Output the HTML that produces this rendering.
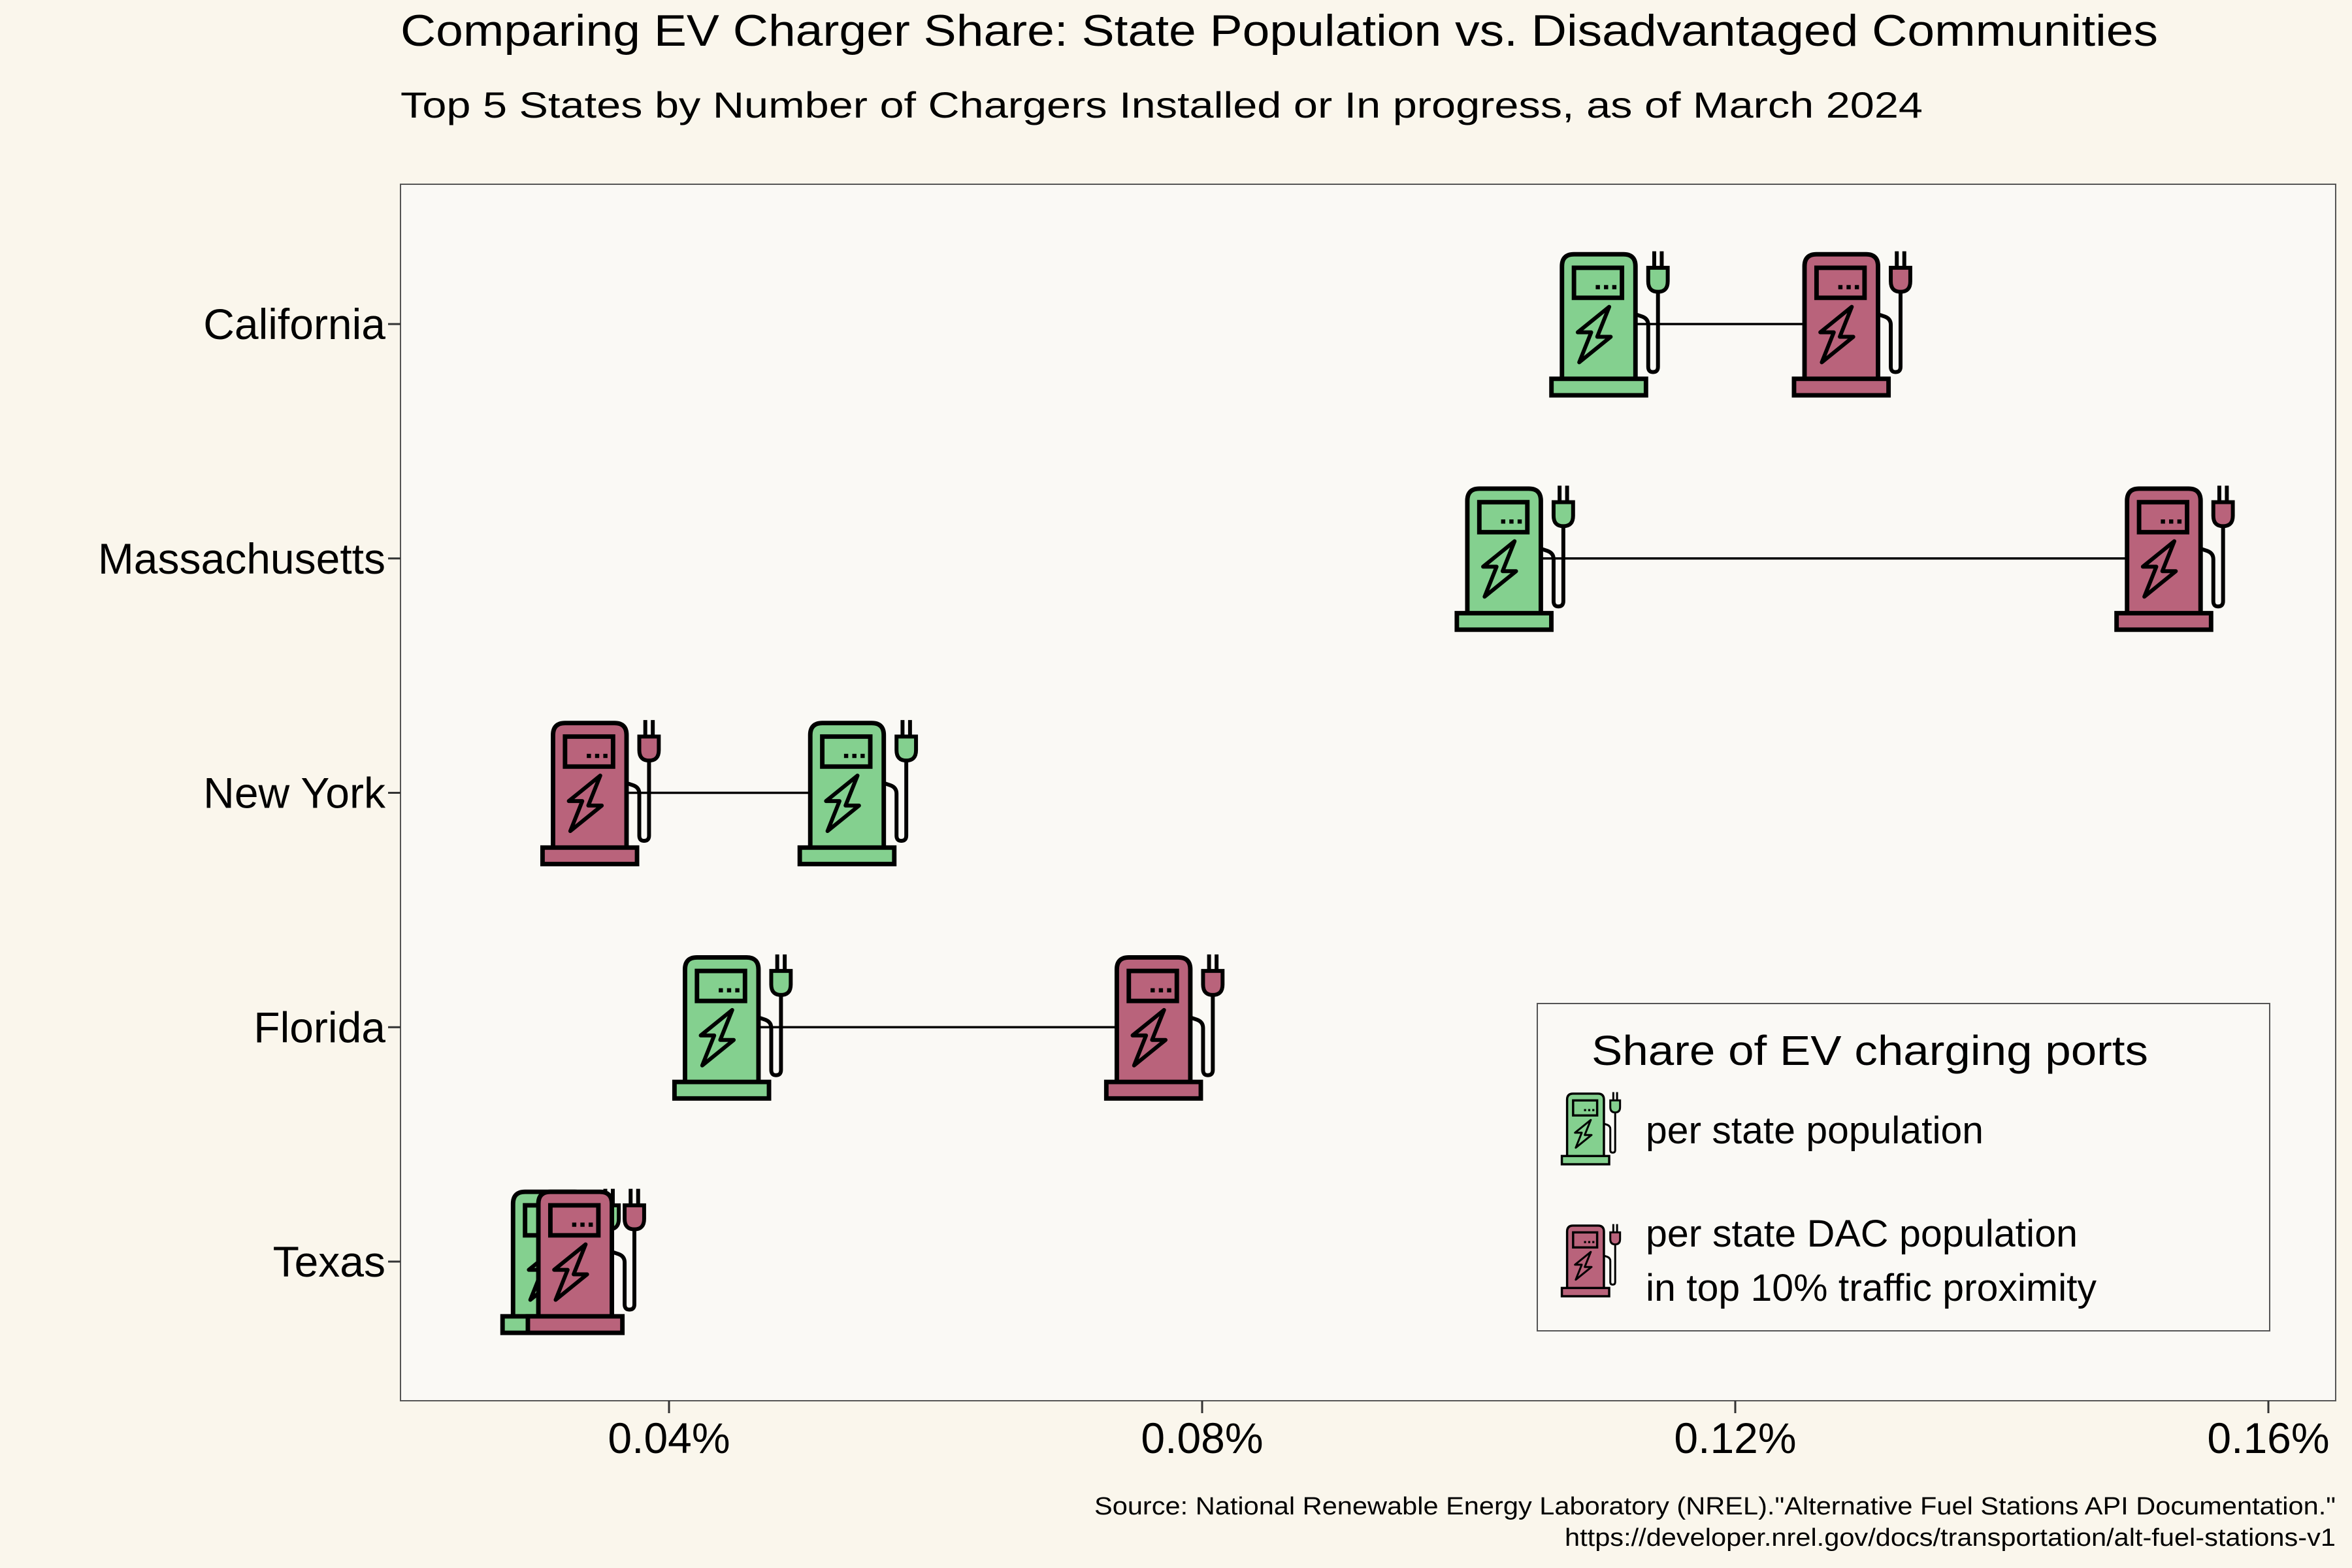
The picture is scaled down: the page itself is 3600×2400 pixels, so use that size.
<!DOCTYPE html>
<html><head><meta charset="utf-8">
<style>
html,body{margin:0;padding:0;background:#faf6ec;}
svg{display:block;font-family:"Liberation Sans",Arial,sans-serif;}
</style></head>
<body>
<svg id="chart" width="3600" height="2400" viewBox="0 0 3600 2400" xmlns="http://www.w3.org/2000/svg">
<defs>
<symbol id="pump" viewBox="-45 -53 75 106" overflow="visible">
  <path d="M-32.5,38 V-39 Q-32.5,-47 -24.5,-47 H8.5 Q16.5,-47 16.5,-39 V38 Z" fill="currentColor" stroke="#000" stroke-width="3"/>
  <rect x="-24.5" y="-38" width="32" height="20" fill="currentColor" stroke="#000" stroke-width="3"/>
  <rect x="-10" y="-26.5" width="2.8" height="2.8" fill="#000"/>
  <rect x="-4.5" y="-26.5" width="2.8" height="2.8" fill="#000"/>
  <rect x="1" y="-26.5" width="2.8" height="2.8" fill="#000"/>
  <path d="M-1,-12 L-22,5 L-13,5 L-21,25 L0,8 L-9,8 Z" fill="none" stroke="#000" stroke-width="2.6" stroke-linejoin="round"/>
  <path d="M16.5,-7 L21,-5.5 Q25,-4 25,0 V28 Q25,31.5 28.2,31.5 Q31.5,31.5 31.5,28 V-22" fill="none" stroke="#000" stroke-width="2.6"/>
  <path d="M25,-38 H38 V-29 Q38,-22 31.5,-22 Q25,-22 25,-29 Z" fill="currentColor" stroke="#000" stroke-width="2.6"/>
  <path d="M29,-38 V-49 M34,-38 V-49" stroke="#000" stroke-width="2.6"/>
  <rect x="-39.5" y="36" width="63" height="11" fill="currentColor" stroke="#000" stroke-width="3"/>
</symbol>
</defs>
<rect x="0" y="0" width="3600" height="2400" fill="#faf6ec"/>
<text x="613" y="70" font-size="68" textLength="2690" lengthAdjust="spacingAndGlyphs">Comparing EV Charger Share: State Population vs. Disadvantaged Communities</text>
<text x="613" y="180" font-size="56" textLength="2330" lengthAdjust="spacingAndGlyphs">Top 5 States by Number of Chargers Installed or In progress, as of March 2024</text>
<rect x="613" y="282" width="2962" height="1862" fill="#faf9f5" stroke="#555" stroke-width="2"/>
<g id="yaxis"></g>
<g id="xaxis"></g>
<g id="segments"></g>
<g id="marks"></g>
<g>
  <rect x="2353" y="1536" width="1121" height="501" fill="#faf9f5" stroke="#555" stroke-width="2"/>
  <text x="2436" y="1630" font-size="64" textLength="852" lengthAdjust="spacingAndGlyphs">Share of EV charging ports</text>
  <use href="#pump" x="-45" y="-53" width="75" height="106" transform="translate(2436,1728) scale(1.15)" style="color:#84d08f"/>
  <text x="2519" y="1750" font-size="58" textLength="517" lengthAdjust="spacingAndGlyphs">per state population</text>
  <use href="#pump" x="-45" y="-53" width="75" height="106" transform="translate(2436,1930) scale(1.15)" style="color:#b9637b"/>
  <text x="2519" y="1908" font-size="58" textLength="661" lengthAdjust="spacingAndGlyphs">per state DAC population</text>
  <text x="2519" y="1991" font-size="58" textLength="690" lengthAdjust="spacingAndGlyphs">in top 10% traffic proximity</text>
</g>
<text x="3575" y="2318" font-size="38" text-anchor="end" textLength="1900" lengthAdjust="spacingAndGlyphs">Source: National Renewable Energy Laboratory (NREL)."Alternative Fuel Stations API Documentation."</text>
<text x="3575" y="2366" font-size="38" text-anchor="end" textLength="1180" lengthAdjust="spacingAndGlyphs">https://developer.nrel.gov/docs/transportation/alt-fuel-stations-v1</text>
</svg>
<script>
const states = ["California","Massachusetts","New York","Florida","Texas"];
const popShare = [0.1106,0.1035,0.0542,0.0448,0.0319];
const dacShare = [0.1288,0.1530,0.0349,0.0772,0.0338];
const xTicks = [0.04,0.08,0.12,0.16];
const xTickLabels = ["0.04%","0.08%","0.12%","0.16%"];

const NS="http://www.w3.org/2000/svg";
const S=2.296;
function xScale(v){return 1024+(v-0.04)*(3472-1024)/0.12;}
function yScale(i){return 496+i*358.75;}
function mk(tag,attrs,parent){const e=document.createElementNS(NS,tag);for(const k in attrs)e.setAttribute(k,attrs[k]);parent.appendChild(e);return e;}

const yax=document.getElementById('yaxis');
states.forEach((s,i)=>{
  const y=yScale(i);
  const t=mk('line',{x1:594,x2:613,y1:y,y2:y,stroke:'#333','stroke-width':3},yax);
  
  
  const l=mk('text',{x:590,y:y+23,'font-size':66,'text-anchor':'end'},yax);
  l.textContent=s;
  
  
});
const xax=document.getElementById('xaxis');
xTicks.forEach((v,i)=>{
  const x=xScale(v);
  const t=mk('line',{x1:x,x2:x,y1:2144,y2:2163,stroke:'#333','stroke-width':3},xax);
  
  
  const l=mk('text',{x:x,y:2224,'font-size':66,'text-anchor':'middle'},xax);
  l.textContent=xTickLabels[i];
  
  
});
const seg=document.getElementById('segments');
states.forEach((s,i)=>{
  const y=yScale(i);
  const ln=mk('line',{x1:xScale(popShare[i]),x2:xScale(dacShare[i]),y1:y,y2:y,stroke:'#000','stroke-width':3.5},seg);
  
  
});
const marks=document.getElementById('marks');
function icon(v,i,color,name){
  const u=mk('use',{href:'#pump',x:-45,y:-53,width:75,height:106,
    transform:`translate(${xScale(v)+0.5*S},${yScale(i)+0.5*S}) scale(${S})`,style:'color:'+color},marks);
  
  
}
states.forEach((s,i)=>icon(popShare[i],i,'#84d08f','marker-population'));
states.forEach((s,i)=>icon(dacShare[i],i,'#b9637b','marker-dac'));
</script>
</body></html>
